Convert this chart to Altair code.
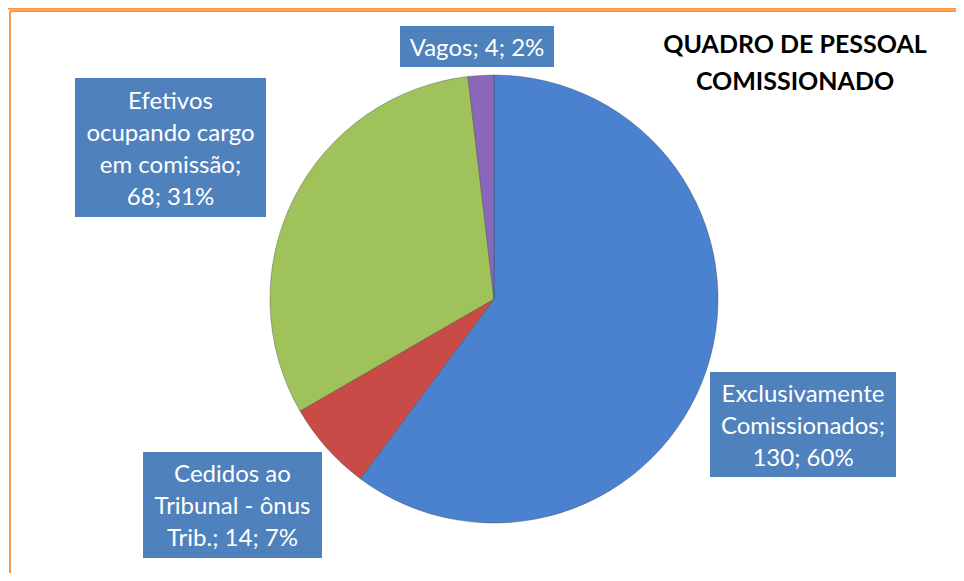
import altair as alt
import pandas as pd

# ---- data ----
categories = [
    "Exclusivamente Comissionados",
    "Cedidos ao Tribunal - ônus Trib.",
    "Efetivos ocupando cargo em comissão",
    "Vagos",
]
values = [130, 14, 68, 4]
percents = ["60%", "7%", "31%", "2%"]
wrapped_names = [
    "Exclusivamente\nComissionados;\n",
    "Cedidos ao\nTribunal - ônus\nTrib.; ",
    "Efetivos\nocupando cargo\nem comissão;\n",
    "Vagos; ",
]
title_lines = "QUADRO DE PESSOAL\nCOMISSIONADO"

# ---- layout / style (pixels inside the svg) ----
slice_colors = ["#4A82CF", "#C84B47", "#A0C25A", "#8A67BB"]
box_x = [702, 135, 67, 392]
box_x2 = [888, 314, 258, 546]
box_y = [364, 444, 70, 18]
box_y2 = [469, 550, 209, 59]
W, H = 948, 565
CX, CY, R = 486, 291, 224
FONT = "Lato"
LINE_H = 32

pie_df = pd.DataFrame({"cat": categories, "value": values, "idx": list(range(len(values)))})
lab_df = pd.DataFrame({
    "text": [w + f"{v}; {p}" for w, v, p in zip(wrapped_names, values, percents)],
    "x": box_x, "x2": box_x2, "y": box_y, "y2": box_y2,
})
lab_df["nlines"] = lab_df["text"].str.count("\n") + 1
lab_df["cx"] = (lab_df["x"] + lab_df["x2"]) / 2
lab_df["ty"] = (lab_df["y"] + lab_df["y2"]) / 2 - (lab_df["nlines"] - 1) / 2 * LINE_H + 2

frame_df = pd.DataFrame({
    "x": [0, 2, 2], "x2": [W, W, 2],
    "y": [0.8, 3, 3], "y2": [0.8, 3, H],
})

pie = alt.Chart(pie_df).mark_arc(
    outerRadius=R, stroke="#3a3a3a", strokeWidth=0.6, strokeOpacity=0.6
).encode(
    theta=alt.Theta("value:Q", stack=True),
    order=alt.Order("idx:Q"),
    color=alt.Color("cat:N", scale=alt.Scale(domain=categories, range=slice_colors), legend=None),
    x=alt.value(CX),
    y=alt.value(CY),
)

boxes = alt.Chart(lab_df).mark_rect(color="#4F81BD").encode(
    x=alt.X("x:Q", scale=None), x2="x2:Q",
    y=alt.Y("y:Q", scale=None), y2="y2:Q",
)

texts = alt.Chart(lab_df).mark_text(
    font=FONT, fontSize=24, color="white", align="center", baseline="middle",
    lineBreak="\n", lineHeight=LINE_H,
).encode(
    x=alt.X("cx:Q", scale=None),
    y=alt.Y("ty:Q", scale=None),
    text="text:N",
)

title = alt.Chart(pd.DataFrame({"t": [title_lines]})).mark_text(
    font=FONT, fontSize=25, fontWeight="bold", color="black", align="center",
    baseline="middle", lineBreak="\n", lineHeight=37,
).encode(
    x=alt.value(787), y=alt.value(37), text="t:N",
)

frame = alt.Chart(frame_df).mark_rule(color="#F79646", strokeWidth=2).encode(
    x=alt.X("x:Q", scale=None), x2="x2:Q",
    y=alt.Y("y:Q", scale=None), y2="y2:Q",
)

chart = alt.layer(frame, pie, boxes, texts, title).resolve_scale(
    color="independent"
).properties(
    width=W, height=H, padding=0, autosize=alt.AutoSizeParams(type="none"),
    background="white",
).configure_view(stroke=None)

chart.save("out.html", embed_options={"renderer": "svg", "actions": False})
